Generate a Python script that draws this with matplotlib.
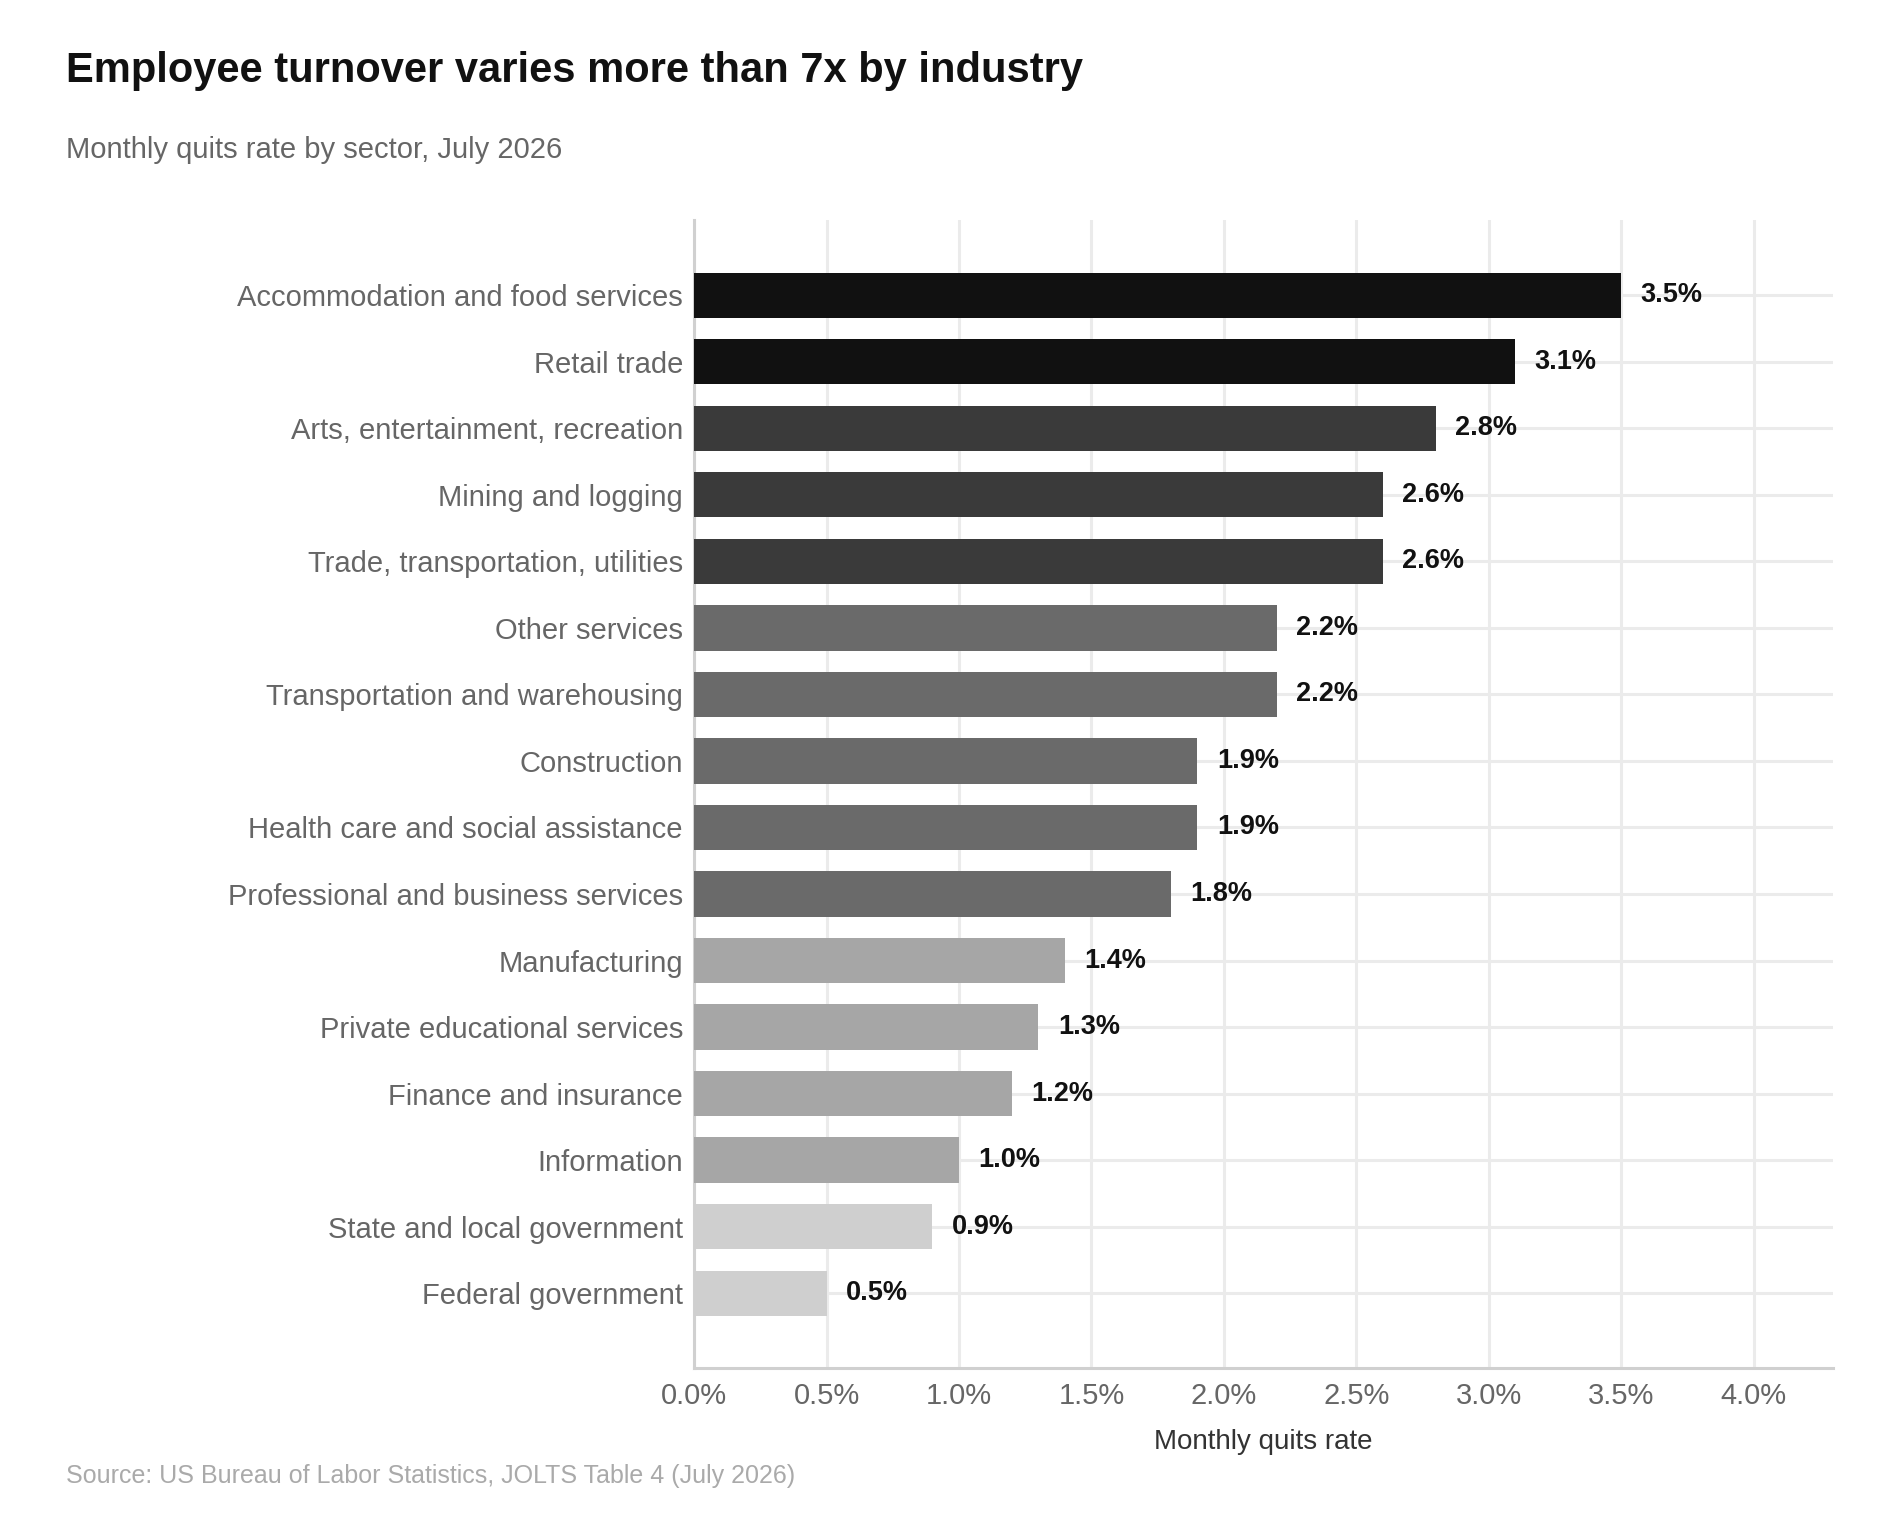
import numpy as np
import matplotlib
matplotlib.use('Agg')
import matplotlib.pyplot as plt
from matplotlib.ticker import FuncFormatter, MultipleLocator

plt.rcParams.update({
    'font.family': ['Liberation Sans', 'DejaVu Sans'],
})

sectors = [
    "Accommodation and food services", "Retail trade",
    "Arts, entertainment, recreation", "Mining and logging",
    "Trade, transportation, utilities", "Other services",
    "Transportation and warehousing", "Construction",
    "Health care and social assistance", "Professional and business services",
    "Manufacturing", "Private educational services", "Finance and insurance",
    "Information", "State and local government", "Federal government",
]
quits = [3.5, 3.1, 2.8, 2.6, 2.6, 2.2, 2.2, 1.9, 1.9, 1.8, 1.4, 1.3, 1.2, 1.0, 0.9, 0.5]
bar_colors = ["#111111", "#111111", "#3a3a3a", "#3a3a3a", "#3a3a3a",
              "#6a6a6a", "#6a6a6a", "#6a6a6a", "#6a6a6a", "#6a6a6a",
              "#a6a6a6", "#a6a6a6", "#a6a6a6", "#a6a6a6", "#cfcfcf", "#cfcfcf"]

fig = plt.figure(figsize=(19, 15.2), dpi=100)
ax = fig.add_axes([0.3653, 0.1, 0.5995, 0.755])

y = np.arange(len(sectors))
ax.barh(y, quits, height=0.68, color=bar_colors, zorder=3)

for yi, v in zip(y, quits):
    ax.annotate(f"{v:.1f}%", (v, yi), xytext=(14, 0), textcoords='offset points',
                ha='left', va='center', fontsize=19.5, fontweight='bold',
                color='#111111', zorder=4)

ax.set_xlim(0, 4.3)
ax.set_ylim(len(sectors) - 1 + 1.125, -1.125)
ax.set_yticks(y)
ax.set_yticklabels(sectors)
ax.xaxis.set_major_locator(MultipleLocator(0.5))
ax.xaxis.set_major_formatter(FuncFormatter(lambda x, _: f"{x:.1f}%"))

ax.grid(True, color='#ebebeb', linewidth=2.2, zorder=0)
ax.set_axisbelow(True)
ax.tick_params(axis='both', length=0, labelsize=21, colors='#666666')
ax.tick_params(axis='y', pad=8)
ax.tick_params(axis='x', pad=10)

for s in ['top', 'right']:
    ax.spines[s].set_visible(False)
for s in ['left', 'bottom']:
    ax.spines[s].set_color('#d0d0d0')
    ax.spines[s].set_linewidth(2.2)

ax.set_xlabel("Monthly quits rate", fontsize=20, color='#333333', labelpad=14)

fig.text(0.035, 0.953, "Employee turnover varies more than 7x by industry",
         fontsize=30, fontweight='bold', color='#111111', ha='left', va='center')
fig.text(0.035, 0.901, "Monthly quits rate by sector, July 2026",
         fontsize=21, color='#666666', ha='left', va='center')
fig.text(0.035, 0.029, "Source: US Bureau of Labor Statistics, JOLTS Table 4 (July 2026)",
         fontsize=18, color='#aaaaaa', ha='left', va='center')

fig.savefig("out.png", dpi=100)
